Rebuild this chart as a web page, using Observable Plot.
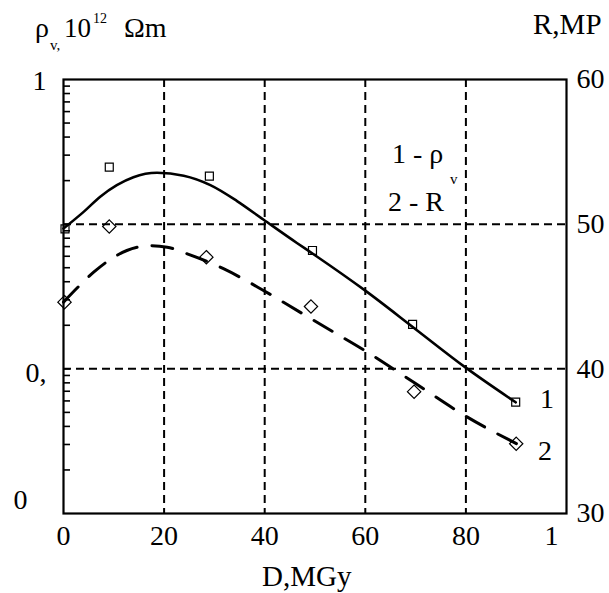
<!DOCTYPE html>
<html>
<head>
<meta charset="utf-8">
<script src="https://cdn.jsdelivr.net/npm/d3@7"></script>
<script src="https://cdn.jsdelivr.net/npm/@observablehq/plot@0.6"></script>
<style>
  html, body { margin: 0; padding: 0; background: #fff; }
  #wrap { position: relative; width: 609px; height: 593px; }
  #wrap svg { display: block; }
  #overlay { position: absolute; left: 0; top: 0; pointer-events: none; }
  #overlay text { font-family: "Liberation Serif", "Liberation Sans", Arial, sans-serif; fill: #000; }
</style>
</head>
<body>
<div id="wrap"></div>
<script>
// ---- Data ----
// Curve 1: volume resistivity rho_v (10^12 Ohm·m), log scale (left axis)
const doseCurveRho = [0, 4, 7.3, 10.6, 13.9, 18.6, 23.9, 29.2, 34.5, 39.8, 46.4, 50, 60, 70, 79.9, 89.9];
const rhoCurve = [0.0933, 0.1216, 0.1549, 0.1862, 0.2113, 0.2265, 0.2163, 0.1862, 0.1445, 0.1072, 0.0741, 0.0610, 0.0347, 0.0188, 0.01023, 0.00587];
const doseRhoPoints = [0.3, 9.1, 29, 49.5, 69.4, 89.9];
const rhoPoints = [0.0929, 0.2477, 0.2148, 0.0658, 0.0203, 0.00589];

// Curve 2: tensile strength R (MPa), linear scale (right axis)
const doseCurveR = [0, 3, 6, 9.3, 12.6, 17.3, 20.6, 24.6, 31.8, 39.5, 47, 53.7, 60.4, 70, 80.3, 90.1];
const rCurve = [44.61, 45.69, 46.68, 47.56, 48.18, 48.51, 48.41, 47.95, 46.92, 45.47, 43.92, 42.54, 41.15, 38.98, 36.66, 34.82];
const doseRPoints = [0.2, 9.1, 28.4, 49.2, 69.7, 90];
const rPoints = [44.61, 49.84, 47.72, 44.31, 38.42, 34.82];

// Axes
const xGridValues = [20, 40, 60, 80];
const xTickValues = [0, 20, 40, 60, 80];
const xTickLabels = ["0", "20", "40", "60", "80"];
const xEndValue = 100;
const xEndLabel = "1";
const rhoGridValues = [0.1, 0.01];
const leftTickValues = [1, 0.01, 0.001];
const leftTickLabels = ["1", "0,", "0"];
const leftMinorTicks = [0.002, 0.003, 0.004, 0.005, 0.006, 0.007, 0.008, 0.009, 0.01,
  0.02, 0.03, 0.04, 0.05, 0.06, 0.07, 0.08, 0.09, 0.1,
  0.2, 0.3, 0.4, 0.5, 0.6, 0.7, 0.8, 0.9];
const rightTickValues = [60, 50, 40, 30];

// Right axis R (MPa) shares the plot height with the left log axis:
// 60 MPa <-> 1, each 10 MPa <-> one decade
const rToRho = r => Math.pow(10, (r - 60) / 10);

// Style arrays (offsets for the truncated left labels)
const leftLabelDx = [-31, -38, -50];
const leftLabelDy = [2, 4, -13];

const rhoLine = doseCurveRho.map((d, i) => ({dose: d, rho: rhoCurve[i]}));
const rhoDots = doseRhoPoints.map((d, i) => ({dose: d, rho: rhoPoints[i]}));
const rLine = doseCurveR.map((d, i) => ({dose: d, R: rCurve[i]}));
const rDots = doseRPoints.map((d, i) => ({dose: d, R: rPoints[i]}));

const FONT = "'Liberation Serif', 'Liberation Sans', Arial, sans-serif";
const FS = 28;

const leftLabelMarks = leftTickValues.map((v, i) =>
  Plot.text([v], {
    y: d => d, text: () => leftTickLabels[i],
    frameAnchor: "left", textAnchor: "start",
    dx: leftLabelDx[i], dy: leftLabelDy[i],
    fontSize: FS, fill: "black"
  })
);

const chart = Plot.plot({
  width: 609,
  height: 593,
  marginLeft: 63,
  marginRight: 43,
  marginTop: 79,
  marginBottom: 80,
  style: {fontFamily: FONT, fontSize: FS + "px", background: "white", color: "black"},
  x: {domain: [0, 100], label: null},
  y: {type: "log", domain: [0.001, 1], label: null},
  marks: [
    Plot.ruleX(xGridValues, {stroke: "black", strokeWidth: 2, strokeDasharray: "8,5"}),
    Plot.ruleY(rhoGridValues, {stroke: "black", strokeWidth: 2, strokeDasharray: "8,5"}),
    Plot.axisY(leftMinorTicks, {anchor: "left", tickSize: 7, tickPadding: 0, dx: 7, tickFormat: () => "", strokeWidth: 1.6, stroke: "black"}),
    Plot.axisX(xTickValues, {anchor: "bottom", tickSize: 0, tickPadding: 12, tickFormat: d => xTickLabels[xTickValues.indexOf(d)], fontSize: FS, fill: "black"}),
    Plot.text([xEndValue], {x: d => d, text: () => xEndLabel, frameAnchor: "bottom", lineAnchor: "top", dy: 12, dx: -15, fontSize: FS, fill: "black"}),
    Plot.axisY(rightTickValues.map(rToRho), {anchor: "right", tickSize: 0, tickPadding: 10, tickFormat: d => String(Math.round(60 + 10 * Math.log10(d))), fontSize: FS, fill: "black"}),
    ...leftLabelMarks,
    Plot.line(rhoLine, {x: "dose", y: "rho", curve: "monotone-x", stroke: "black", strokeWidth: 2.6}),
    Plot.line(rLine, {x: "dose", y: d => rToRho(d.R), curve: "monotone-x", stroke: "black", strokeWidth: 3, strokeDasharray: "21,15"}),
    Plot.dot(rhoDots, {x: "dose", y: "rho", symbol: "square", r: 4.5, stroke: "black", strokeWidth: 1.2, fill: "none"}),
    Plot.dot(rDots, {x: "dose", y: d => rToRho(d.R), symbol: "diamond2", r: 6, stroke: "black", strokeWidth: 1.2, fill: "none"}),
    Plot.frame({stroke: "black", strokeWidth: 2.2})
  ]
});

const wrap = document.getElementById("wrap");
wrap.appendChild(chart);

// Axis titles, legend and curve labels (text annotations)
const ns = "http://www.w3.org/2000/svg";
const overlay = document.createElementNS(ns, "svg");
overlay.setAttribute("id", "overlay");
overlay.setAttribute("width", 609);
overlay.setAttribute("height", 593);
const annotations = [
  {t: "ρ", x: 35, y: 37, s: 28},
  {t: "v,", x: 50, y: 50, s: 15},
  {t: "10", x: 64, y: 37, s: 27},
  {t: "12", x: 93, y: 23, s: 14},
  {t: "Ωm", x: 124, y: 37, s: 28},
  {t: "R,MP", x: 533, y: 34, s: 29},
  {t: "D,MGy", x: 262, y: 586, s: 29},
  {t: "1 - ρ", x: 392, y: 163, s: 28},
  {t: "v", x: 450, y: 184, s: 15},
  {t: "2 - R", x: 388, y: 211, s: 28},
  {t: "1", x: 540, y: 408, s: 28, c: "#b5b5b5"},
  {t: "2", x: 538, y: 460, s: 28, c: "#000"}
];
for (const a of annotations) {
  const el = document.createElementNS(ns, "text");
  el.setAttribute("x", a.x);
  el.setAttribute("y", a.y);
  el.setAttribute("font-size", a.s);
  if (a.c) el.setAttribute("fill", a.c);
  el.textContent = a.t;
  overlay.appendChild(el);
}
wrap.appendChild(overlay);
</script>
</body>
</html>
